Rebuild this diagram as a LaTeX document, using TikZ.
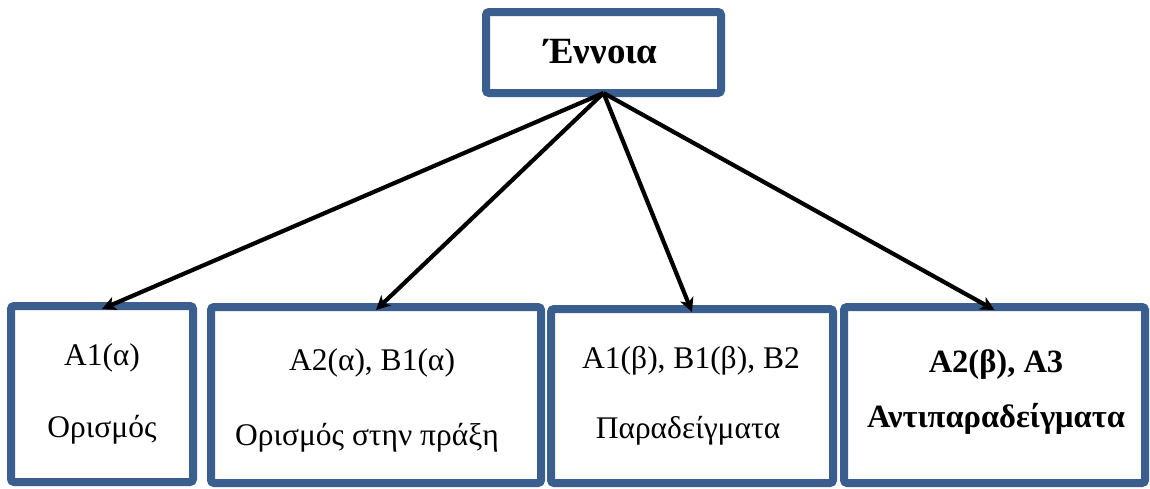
\documentclass[tikz,border=0pt]{standalone}
\usepackage{fontspec}
\setmainfont{Liberation Serif}
\usetikzlibrary{arrows.meta}
\definecolor{frameblue}{HTML}{3A5F8E}
\tikzset{
  frame/.style={draw=frameblue, line width=8pt, rounded corners=3pt, fill=white,
    inner sep=0pt, outer sep=0pt},
  txt/.style={anchor=base, inner sep=0pt, font=\fontsize{31.5}{36}\selectfont},
  btxt/.style={txt, font=\fontsize{32.5}{38}\selectfont\bfseries},
  link/.style={line width=4.2pt, -{Stealth[length=14pt, width=14pt, inset=4pt]}}
}
\begin{document}
\begin{tikzpicture}[x=1pt, y=-1pt]
\useasboundingbox (0,0) rectangle (1150,488);

% top concept box
\node[frame, minimum width=235pt, minimum height=81pt] (top) at (603.5,52.5) {};
\node[btxt, font=\fontsize{37}{42}\selectfont\bfseries] (toptxt) at (601,63) {Έννοια};

% bottom boxes
\node[frame, minimum width=182pt, minimum height=176pt] (b1) at (102,394) {};
\node[frame, minimum width=330pt, minimum height=176pt] (b2) at (376,395) {};
\node[frame, minimum width=282pt, minimum height=174pt] (b3) at (692,396) {};
\node[frame, minimum width=301pt, minimum height=176pt] (b4) at (994.5,395) {};

% texts of the bottom boxes
\node[txt] (b1a) at (102,365) {A1(α)};
\node[txt] (b1b) at (102,437) {Ορισμός};
\node[txt] (b2a) at (372,370) {A2(α), B1(α)};
\node[txt] (b2b) at (367,445) {Ορισμός στην πράξη};
\node[txt] (b3a) at (691,368) {A1(β), B1(β), B2};
\node[txt] (b3b) at (688,438) {Παραδείγματα};
\node[btxt] (b4a) at (996,372) {A2(β), A3};
\node[btxt] (b4b) at (996,427) {Αντιπαραδείγματα};

% connectors from the concept to each box
\foreach \b in {b1,b2,b3,b4}
  \draw[link] (top.south) -- ([yshift=-3pt]\b.north);
\end{tikzpicture}
\end{document}
